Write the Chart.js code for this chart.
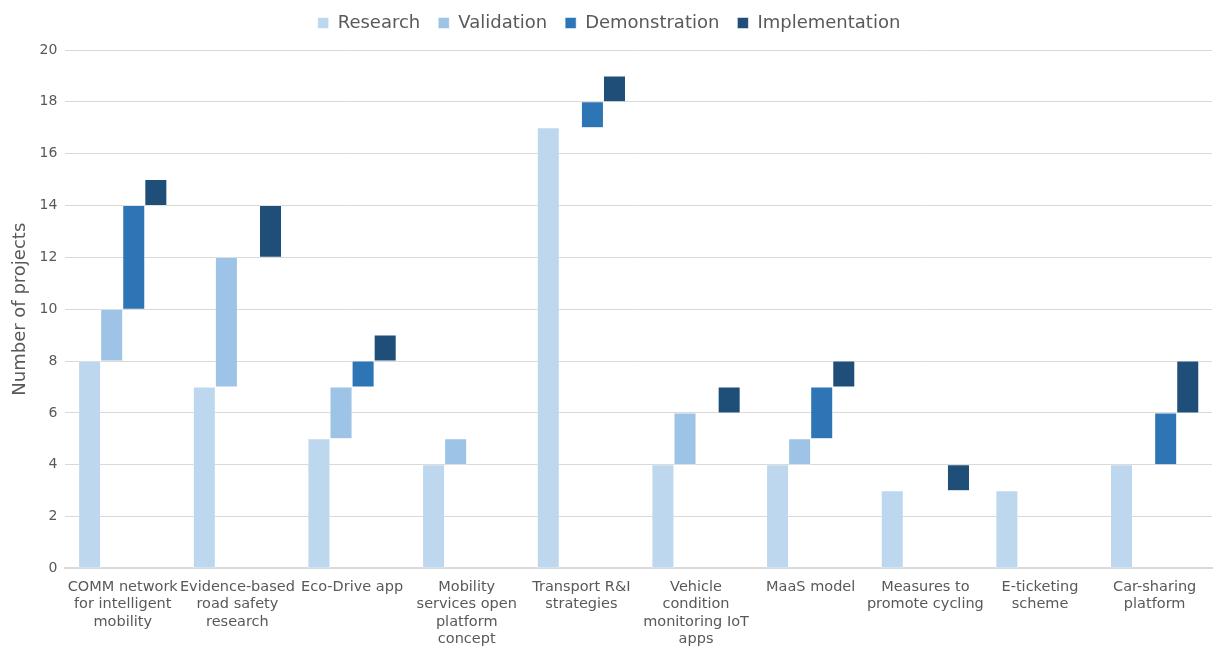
<!DOCTYPE html>
<html>
<head>
<meta charset="utf-8">
<script src="https://cdn.jsdelivr.net/npm/chart.js@4"></script>
<style>
    html, body { margin: 0; padding: 0; background: #fff; }
    #wrap { width: 1214px; height: 646px; position: relative; }
</style>
</head>
<body>
<div id="wrap"><canvas id="proyectos"></canvas></div>
<script>
const categorias = [
    ["COMM network", "for intelligent", "mobility"],
    ["Evidence-based", "road safety", "research"],
    "Eco-Drive app",
    ["Mobility", "services open", "platform", "concept"],
    ["Transport R&I", "strategies"],
    ["Vehicle", "condition", "monitoring IoT", "apps"],
    "MaaS model",
    ["Measures to", "promote cycling"],
    ["E-ticketing", "scheme"],
    ["Car-sharing", "platform"],
];

// number of projects added at each stage (0 = no bar)
const research = [8, 7, 5, 4, 17, 4, 4, 3, 3, 4];
const validation = [2, 5, 2, 1, 0, 2, 1, 0, 0, 0];
const demonstration = [4, 0, 1, 0, 1, 0, 2, 0, 0, 2];
const implementation = [1, 2, 1, 0, 1, 1, 1, 1, 0, 2];

const etapas = ["Research", "Validation", "Demonstration", "Implementation"];
const colores = ["#BDD7EE", "#9DC3E6", "#2E75B6", "#1F4E79"];

// each stage floats on top of the running total
const series = [research, validation, demonstration, implementation];
const base = categorias.map(() => 0);
const datasets = series.map((valores, i) => {
    const data = valores.map((v, j) => {
        const inicio = base[j];
        base[j] += v;
        return v > 0 ? [inicio, inicio + v] : null;
    });
    return {
        label: etapas[i],
        data: data,
        backgroundColor: colores[i],
        borderColor: "#fff",
        borderWidth: 0.5,
        borderSkipped: false,
        barPercentage: 1,
        categoryPercentage: 0.77,
    };
});

const fuente = "'DejaVu Sans', Verdana, sans-serif";

// a bit more room under the legend
const espacioLeyenda = {
    id: "espacioLeyenda",
    beforeInit(chart) {
        const fit = chart.legend.fit;
        chart.legend.fit = function () {
            fit.bind(chart.legend)();
            this.height += 8;
        };
    },
};

new Chart(document.getElementById("proyectos"), {
    type: "bar",
    data: { labels: categorias, datasets: datasets },
    plugins: [espacioLeyenda],
    options: {
        responsive: true,
        maintainAspectRatio: false,
        animation: false,
        layout: { padding: { top: -4, right: 2, left: 6, bottom: -4 } },
        scales: {
            x: {
                grid: { display: false },
                border: { color: "#d9d9d9", width: 2 },
                ticks: {
                    font: { family: fuente, size: 14.5, lineHeight: 1.2 },
                    color: "#595959",
                    maxRotation: 0,
                    autoSkip: false,
                    padding: 2,
                },
            },
            y: {
                min: 0,
                max: 20,
                grid: { color: "#d9d9d9", drawTicks: false },
                border: { display: false },
                ticks: {
                    stepSize: 2,
                    font: { family: fuente, size: 14 },
                    color: "#595959",
                    padding: 8,
                },
                title: {
                    display: true,
                    text: "Number of projects",
                    font: { family: fuente, size: 18 },
                    color: "#595959",
                    padding: { bottom: 0 },
                },
            },
        },
        plugins: {
            legend: {
                position: "top",
                labels: {
                    font: { family: fuente, size: 18 },
                    color: "#595959",
                    boxWidth: 11,
                    boxHeight: 11,
                    padding: 18,
                },
            },
            tooltip: { enabled: false },
        },
    },
});
</script>
</body>
</html>
